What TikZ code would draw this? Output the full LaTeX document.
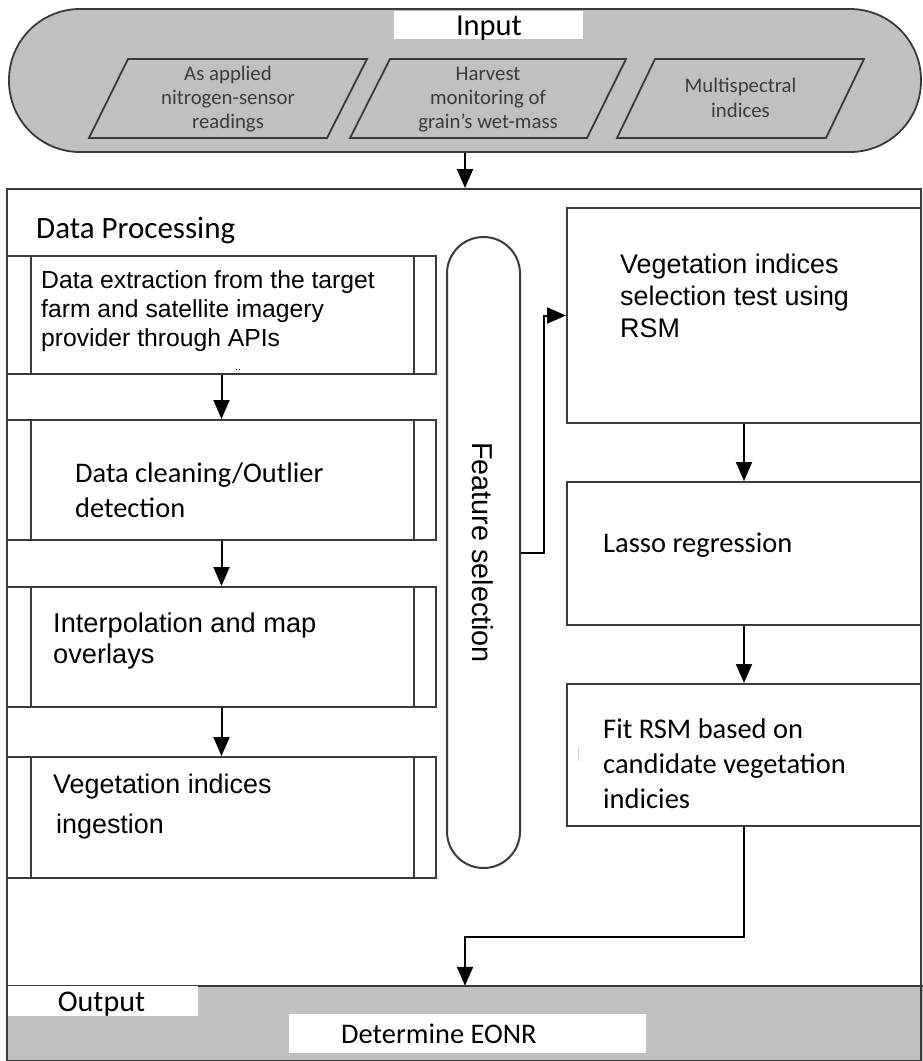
\documentclass[tikz,border=0pt]{standalone}
\usepackage{fontspec}
\newfontfamily\carl{Carlito}
\newfontfamily\lib{Liberation Sans}
\usetikzlibrary{arrows.meta,calc}
\newcommand\Lft[1]{\vtop{\halign{##\hfil\cr#1\crcr}}}
\newcommand\Ctr[1]{\vtop{\halign{\hfil##\hfil\cr#1\crcr}}}
\definecolor{panelgray}{HTML}{C0C0C0}
\definecolor{edge}{HTML}{3A3A3A}
\definecolor{txtgray}{HTML}{3C3C3C}
\begin{document}
\begin{tikzpicture}[x=1pt,y=-1pt,
  frame/.style={draw=edge,line width=2pt},
  proc/.style={frame,rectangle,inner sep=0pt,minimum width=429pt},
  rbox/.style={frame,rectangle,inner sep=0pt,minimum width=354pt},
  para/.style={draw=edge,line width=1.8pt,fill=panelgray},
  arr/.style={draw=black,line width=2pt,-{Triangle[length=19pt,width=16pt]}},
  txt/.style={inner sep=0pt,anchor=base west},
  ctxt/.style={inner sep=0pt,anchor=base},
  ptxt/.style={ctxt,text=txtgray,font=\carl\fontsize{20.8}{24}\selectfont},
  blank/.style={fill=white,inner sep=0pt}
]
\useasboundingbox (0,0) rectangle (923,1061);
\fill[white] (0,0) rectangle (923,1061);

% Input pill
\node[draw=edge,line width=1.8pt,fill=panelgray,rounded corners=71pt,
      minimum width=912pt,minimum height=143pt,inner sep=0pt] (input) at (465,80.5) {};
\node[blank,minimum width=189pt,minimum height=28pt] (inlbl) at (488.5,25) {};
\node[ctxt,font=\carl\fontsize{30.5}{36}\selectfont] (intxt) at (489,35) {Input};

% parallelograms
\draw[para] (89,138) -- (128,59) -- (367,59) -- (327,138) -- cycle;
\draw[para] (350,138) -- (390,59) -- (626,59) -- (587,138) -- cycle;
\draw[para] (617,138) -- (655,59) -- (864,59) -- (826,138) -- cycle;
\node[ptxt] (p1) at (228,80) {\Ctr{As applied\cr nitrogen-sensor\cr readings}};
\node[ptxt] (p2) at (488,80) {\Ctr{Harvest\cr monitoring of\cr grain’s wet-mass}};
\node[ptxt,font=\carl\fontsize{20.8}{25.5}\selectfont] (p3) at (740.5,92) {\Ctr{Multispectral\cr indices}};

% output band
\node[fill=panelgray,inner sep=0pt,minimum width=916pt,minimum height=75pt] (out) at (465,1023.5) {};
\draw[edge,line width=2pt] (out.north west) -- (out.north east);
\node[blank,minimum width=191pt,minimum height=30pt] (outlbl) at (102.5,1001) {};
\node[ctxt,font=\carl\fontsize{30}{36}\selectfont] (outtxt) at (101.5,1011) {Output};
\node[blank,minimum width=357pt,minimum height=39pt] (eonr) at (467.5,1033.5) {};
\node[txt,font=\carl\fontsize{28.4}{34}\selectfont] (eonrtxt) at (341,1043) {Determine EONR};

% data processing frame
\node[frame,rectangle,minimum width=914pt,minimum height=872pt,inner sep=0pt] (dp) at (464,625) {};
\node[txt,font=\carl\fontsize{31}{37}\selectfont] (dptitle) at (36,238) {Data Processing};

% left process boxes
\node[proc,minimum height=118pt] (b1) at (221.5,315) {};
\node[proc,minimum height=120pt] (b2) at (221.5,480) {};
\node[proc,minimum height=120pt] (b3) at (221.5,647) {};
\node[proc,minimum height=121pt] (b4) at (221.5,817.5) {};
\foreach \b in {b1,b2,b3,b4}{
  \draw[frame] ([xshift=25pt]\b.north west) -- ([xshift=25pt]\b.south west);
  \draw[frame] ([xshift=-23pt]\b.north east) -- ([xshift=-23pt]\b.south east);
}
\node[txt,font=\lib\fontsize{24.7}{29}\selectfont] (t1) at (41,288)
  {\Lft{Data extraction from the target\cr farm and satellite imagery\cr provider through APIs}};
\node[inner sep=0pt,font=\lib\fontsize{10}{12}\selectfont] (dots) at (238,370) {..};
\node[txt,font=\carl\fontsize{28.4}{35}\selectfont] (t2) at (75,482)
  {\Lft{Data cleaning/Outlier\cr detection}};
\node[txt,font=\lib\fontsize{27.2}{31}\selectfont] (t3) at (53,632)
  {\Lft{Interpolation and map\cr overlays}};
\node[txt,font=\lib\fontsize{26.9}{40}\selectfont] (t4) at (53,793)
  {\Lft{Vegetation indices\cr \hskip3pt ingestion}};

% feature selection pill
\node[frame,rounded corners=36.5pt,minimum width=73pt,minimum height=631pt,inner sep=0pt] (feat) at (483.5,552.5) {};
\node[inner sep=0pt,rotate=-90,font=\lib\fontsize{28.8}{34}\selectfont] (ftxt) at (483,552.5) {Feature selection};

% right boxes
\node[rbox,minimum height=215pt] (vist) at (744,315.5) {};
\node[rbox,minimum height=143pt] (lasso) at (744,553.5) {};
\node[rbox,minimum height=142pt] (fit) at (744,755) {};
\node[txt,font=\lib\fontsize{26.9}{32}\selectfont] (vtxt) at (620,273)
  {\Lft{Vegetation indices\cr selection test using\cr RSM}};
\node[txt,font=\carl\fontsize{28.5}{35}\selectfont] (ltxt) at (603,552) {Lasso regression};
\node[txt,font=\carl\fontsize{28.5}{35}\selectfont] (fittxt) at (603,738)
  {\Lft{Fit RSM based on\cr candidate vegetation\cr indicies}};
\draw[gray!35,line width=1pt] (578,746) -- (578,761);

% connectors
\draw[arr] (input.south) -- (input.south |- dp.north);
\draw[arr] (b1.south) -- (b2.north);
\draw[arr] (b2.south) -- (b3.north);
\draw[arr] (b3.south) -- (b4.north);
\draw[arr] (feat.east) -- ++(23,0) |- (vist.west);
\draw[arr] (vist.south) -- (lasso.north);
\draw[arr] (lasso.south) -- (fit.north);
\coordinate (j) at (744,937);
\draw[arr] (fit.south) -- (j) -| (out.north);
\end{tikzpicture}
\end{document}
